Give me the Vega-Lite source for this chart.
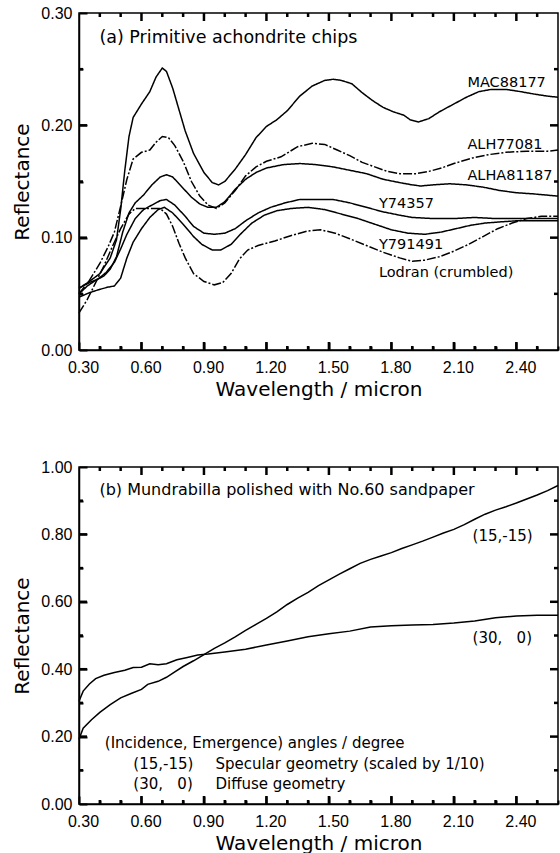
{
  "$schema": "https://vega.github.io/schema/vega-lite/v6.json",
  "background": "white",
  "padding": {"left": 12, "top": 4, "right": 0, "bottom": 0},
  "spacing": 117,
  "bounds": "flush",
  "config": {
    "view": {"stroke": "black", "strokeWidth": 1.5},
    "axis": {
      "grid": false, "ticks": true, "zindex": 2, "domainColor": "black", "domainWidth": 1.5, "tickColor": "black", "tickWidth": 2, "tickOpacity": 1,
      "labelColor": "black", "labelFont": "Liberation Sans", "labelFontSize": 16, "labelFlush": false, "labelOverlap": false,
      "titleColor": "black", "titleFont": "DejaVu Sans", "titleFontSize": 20, "titleFontWeight": "normal"
    },
    "text": {"font": "DejaVu Sans", "color": "black"}
  },
  "datasets": {
    "xt": [{"v":0.4,"m":0},{"v":0.5,"m":0},{"v":0.6,"m":1},{"v":0.7,"m":0},{"v":0.8,"m":0},{"v":0.9,"m":1},{"v":1.0,"m":0},{"v":1.1,"m":0},{"v":1.2,"m":1},{"v":1.3,"m":0},{"v":1.4,"m":0},{"v":1.5,"m":1},{"v":1.6,"m":0},{"v":1.7,"m":0},{"v":1.8,"m":1},{"v":1.9,"m":0},{"v":2.0,"m":0},{"v":2.1,"m":1},{"v":2.2,"m":0},{"v":2.3,"m":0},{"v":2.4,"m":1},{"v":2.5,"m":0}],
    "yta": [{"v":0.05,"m":0},{"v":0.1,"m":1},{"v":0.15,"m":0},{"v":0.2,"m":1},{"v":0.25,"m":0}],
    "ytb": [{"v":0.1,"m":0},{"v":0.2,"m":1},{"v":0.3,"m":0},{"v":0.4,"m":1},{"v":0.5,"m":0},{"v":0.6,"m":1},{"v":0.7,"m":0},{"v":0.8,"m":1},{"v":0.9,"m":0}],
    "a": [
      {"s":"MAC88177","w":0.30,"r":0.055},{"s":"MAC88177","w":0.35,"r":0.061},{"s":"MAC88177","w":0.40,"r":0.068},{"s":"MAC88177","w":0.45,"r":0.082},{"s":"MAC88177","w":0.48,"r":0.098},{"s":"MAC88177","w":0.50,"r":0.125},{"s":"MAC88177","w":0.52,"r":0.160},{"s":"MAC88177","w":0.54,"r":0.190},{"s":"MAC88177","w":0.56,"r":0.207},{"s":"MAC88177","w":0.60,"r":0.219},{"s":"MAC88177","w":0.64,"r":0.230},{"s":"MAC88177","w":0.67,"r":0.243},{"s":"MAC88177","w":0.70,"r":0.251},{"s":"MAC88177","w":0.72,"r":0.248},{"s":"MAC88177","w":0.75,"r":0.233},{"s":"MAC88177","w":0.78,"r":0.214},{"s":"MAC88177","w":0.81,"r":0.195},{"s":"MAC88177","w":0.85,"r":0.175},{"s":"MAC88177","w":0.90,"r":0.158},{"s":"MAC88177","w":0.94,"r":0.149},{"s":"MAC88177","w":0.97,"r":0.147},{"s":"MAC88177","w":1.00,"r":0.150},{"s":"MAC88177","w":1.05,"r":0.161},{"s":"MAC88177","w":1.10,"r":0.174},{"s":"MAC88177","w":1.15,"r":0.189},{"s":"MAC88177","w":1.20,"r":0.199},{"s":"MAC88177","w":1.25,"r":0.205},{"s":"MAC88177","w":1.30,"r":0.213},{"s":"MAC88177","w":1.36,"r":0.226},{"s":"MAC88177","w":1.42,"r":0.235},{"s":"MAC88177","w":1.48,"r":0.240},{"s":"MAC88177","w":1.52,"r":0.241},{"s":"MAC88177","w":1.56,"r":0.240},{"s":"MAC88177","w":1.61,"r":0.237},{"s":"MAC88177","w":1.66,"r":0.229},{"s":"MAC88177","w":1.71,"r":0.222},{"s":"MAC88177","w":1.76,"r":0.216},{"s":"MAC88177","w":1.81,"r":0.212},{"s":"MAC88177","w":1.86,"r":0.209},{"s":"MAC88177","w":1.89,"r":0.205},{"s":"MAC88177","w":1.93,"r":0.203},{"s":"MAC88177","w":1.98,"r":0.206},{"s":"MAC88177","w":2.03,"r":0.212},{"s":"MAC88177","w":2.09,"r":0.218},{"s":"MAC88177","w":2.16,"r":0.225},{"s":"MAC88177","w":2.22,"r":0.230},{"s":"MAC88177","w":2.28,"r":0.232},{"s":"MAC88177","w":2.35,"r":0.232},{"s":"MAC88177","w":2.42,"r":0.230},{"s":"MAC88177","w":2.48,"r":0.228},{"s":"MAC88177","w":2.55,"r":0.226},{"s":"MAC88177","w":2.60,"r":0.225},
      {"s":"ALH77081","w":0.30,"r":0.050},{"s":"ALH77081","w":0.35,"r":0.062},{"s":"ALH77081","w":0.40,"r":0.077},{"s":"ALH77081","w":0.44,"r":0.092},{"s":"ALH77081","w":0.47,"r":0.105},{"s":"ALH77081","w":0.50,"r":0.128},{"s":"ALH77081","w":0.53,"r":0.152},{"s":"ALH77081","w":0.56,"r":0.170},{"s":"ALH77081","w":0.60,"r":0.176},{"s":"ALH77081","w":0.64,"r":0.178},{"s":"ALH77081","w":0.67,"r":0.185},{"s":"ALH77081","w":0.70,"r":0.190},{"s":"ALH77081","w":0.73,"r":0.189},{"s":"ALH77081","w":0.76,"r":0.182},{"s":"ALH77081","w":0.80,"r":0.168},{"s":"ALH77081","w":0.84,"r":0.150},{"s":"ALH77081","w":0.88,"r":0.137},{"s":"ALH77081","w":0.92,"r":0.129},{"s":"ALH77081","w":0.96,"r":0.126},{"s":"ALH77081","w":1.00,"r":0.131},{"s":"ALH77081","w":1.05,"r":0.142},{"s":"ALH77081","w":1.10,"r":0.155},{"s":"ALH77081","w":1.15,"r":0.163},{"s":"ALH77081","w":1.20,"r":0.168},{"s":"ALH77081","w":1.27,"r":0.172},{"s":"ALH77081","w":1.35,"r":0.181},{"s":"ALH77081","w":1.42,"r":0.184},{"s":"ALH77081","w":1.48,"r":0.183},{"s":"ALH77081","w":1.54,"r":0.178},{"s":"ALH77081","w":1.60,"r":0.173},{"s":"ALH77081","w":1.66,"r":0.167},{"s":"ALH77081","w":1.72,"r":0.163},{"s":"ALH77081","w":1.78,"r":0.159},{"s":"ALH77081","w":1.84,"r":0.157},{"s":"ALH77081","w":1.92,"r":0.157},{"s":"ALH77081","w":1.98,"r":0.159},{"s":"ALH77081","w":2.04,"r":0.162},{"s":"ALH77081","w":2.10,"r":0.166},{"s":"ALH77081","w":2.19,"r":0.171},{"s":"ALH77081","w":2.27,"r":0.174},{"s":"ALH77081","w":2.35,"r":0.176},{"s":"ALH77081","w":2.45,"r":0.177},{"s":"ALH77081","w":2.55,"r":0.177},{"s":"ALH77081","w":2.60,"r":0.178},
      {"s":"ALHA81187","w":0.30,"r":0.050},{"s":"ALHA81187","w":0.34,"r":0.057},{"s":"ALHA81187","w":0.38,"r":0.062},{"s":"ALHA81187","w":0.42,"r":0.066},{"s":"ALHA81187","w":0.45,"r":0.072},{"s":"ALHA81187","w":0.48,"r":0.083},{"s":"ALHA81187","w":0.51,"r":0.105},{"s":"ALHA81187","w":0.54,"r":0.122},{"s":"ALHA81187","w":0.57,"r":0.131},{"s":"ALHA81187","w":0.61,"r":0.138},{"s":"ALHA81187","w":0.65,"r":0.147},{"s":"ALHA81187","w":0.69,"r":0.154},{"s":"ALHA81187","w":0.72,"r":0.156},{"s":"ALHA81187","w":0.75,"r":0.154},{"s":"ALHA81187","w":0.79,"r":0.146},{"s":"ALHA81187","w":0.84,"r":0.136},{"s":"ALHA81187","w":0.88,"r":0.130},{"s":"ALHA81187","w":0.92,"r":0.127},{"s":"ALHA81187","w":0.96,"r":0.127},{"s":"ALHA81187","w":1.00,"r":0.132},{"s":"ALHA81187","w":1.05,"r":0.143},{"s":"ALHA81187","w":1.10,"r":0.152},{"s":"ALHA81187","w":1.15,"r":0.158},{"s":"ALHA81187","w":1.20,"r":0.162},{"s":"ALHA81187","w":1.28,"r":0.165},{"s":"ALHA81187","w":1.36,"r":0.166},{"s":"ALHA81187","w":1.44,"r":0.165},{"s":"ALHA81187","w":1.52,"r":0.163},{"s":"ALHA81187","w":1.60,"r":0.160},{"s":"ALHA81187","w":1.68,"r":0.157},{"s":"ALHA81187","w":1.76,"r":0.152},{"s":"ALHA81187","w":1.84,"r":0.149},{"s":"ALHA81187","w":1.90,"r":0.147},{"s":"ALHA81187","w":1.94,"r":0.146},{"s":"ALHA81187","w":2.00,"r":0.147},{"s":"ALHA81187","w":2.08,"r":0.148},{"s":"ALHA81187","w":2.16,"r":0.147},{"s":"ALHA81187","w":2.24,"r":0.145},{"s":"ALHA81187","w":2.32,"r":0.142},{"s":"ALHA81187","w":2.40,"r":0.140},{"s":"ALHA81187","w":2.48,"r":0.139},{"s":"ALHA81187","w":2.60,"r":0.137},
      {"s":"Y74357","w":0.30,"r":0.055},{"s":"Y74357","w":0.35,"r":0.060},{"s":"Y74357","w":0.39,"r":0.063},{"s":"Y74357","w":0.43,"r":0.069},{"s":"Y74357","w":0.47,"r":0.078},{"s":"Y74357","w":0.50,"r":0.090},{"s":"Y74357","w":0.53,"r":0.103},{"s":"Y74357","w":0.57,"r":0.117},{"s":"Y74357","w":0.61,"r":0.125},{"s":"Y74357","w":0.65,"r":0.129},{"s":"Y74357","w":0.69,"r":0.133},{"s":"Y74357","w":0.72,"r":0.134},{"s":"Y74357","w":0.76,"r":0.129},{"s":"Y74357","w":0.81,"r":0.119},{"s":"Y74357","w":0.85,"r":0.110},{"s":"Y74357","w":0.90,"r":0.104},{"s":"Y74357","w":0.95,"r":0.103},{"s":"Y74357","w":1.00,"r":0.104},{"s":"Y74357","w":1.05,"r":0.108},{"s":"Y74357","w":1.10,"r":0.115},{"s":"Y74357","w":1.16,"r":0.122},{"s":"Y74357","w":1.22,"r":0.127},{"s":"Y74357","w":1.29,"r":0.131},{"s":"Y74357","w":1.36,"r":0.134},{"s":"Y74357","w":1.44,"r":0.134},{"s":"Y74357","w":1.52,"r":0.134},{"s":"Y74357","w":1.60,"r":0.131},{"s":"Y74357","w":1.68,"r":0.127},{"s":"Y74357","w":1.76,"r":0.123},{"s":"Y74357","w":1.84,"r":0.120},{"s":"Y74357","w":1.90,"r":0.118},{"s":"Y74357","w":2.00,"r":0.117},{"s":"Y74357","w":2.10,"r":0.117},{"s":"Y74357","w":2.20,"r":0.118},{"s":"Y74357","w":2.30,"r":0.117},{"s":"Y74357","w":2.40,"r":0.117},{"s":"Y74357","w":2.50,"r":0.117},{"s":"Y74357","w":2.60,"r":0.117},
      {"s":"Y791491","w":0.30,"r":0.047},{"s":"Y791491","w":0.35,"r":0.051},{"s":"Y791491","w":0.40,"r":0.054},{"s":"Y791491","w":0.44,"r":0.056},{"s":"Y791491","w":0.47,"r":0.057},{"s":"Y791491","w":0.50,"r":0.064},{"s":"Y791491","w":0.53,"r":0.082},{"s":"Y791491","w":0.56,"r":0.096},{"s":"Y791491","w":0.60,"r":0.108},{"s":"Y791491","w":0.64,"r":0.118},{"s":"Y791491","w":0.68,"r":0.125},{"s":"Y791491","w":0.71,"r":0.127},{"s":"Y791491","w":0.75,"r":0.122},{"s":"Y791491","w":0.80,"r":0.112},{"s":"Y791491","w":0.85,"r":0.101},{"s":"Y791491","w":0.89,"r":0.094},{"s":"Y791491","w":0.94,"r":0.089},{"s":"Y791491","w":0.98,"r":0.089},{"s":"Y791491","w":1.03,"r":0.094},{"s":"Y791491","w":1.08,"r":0.104},{"s":"Y791491","w":1.13,"r":0.113},{"s":"Y791491","w":1.19,"r":0.120},{"s":"Y791491","w":1.25,"r":0.124},{"s":"Y791491","w":1.32,"r":0.126},{"s":"Y791491","w":1.40,"r":0.127},{"s":"Y791491","w":1.48,"r":0.125},{"s":"Y791491","w":1.56,"r":0.121},{"s":"Y791491","w":1.64,"r":0.117},{"s":"Y791491","w":1.72,"r":0.112},{"s":"Y791491","w":1.80,"r":0.107},{"s":"Y791491","w":1.88,"r":0.104},{"s":"Y791491","w":1.96,"r":0.103},{"s":"Y791491","w":2.04,"r":0.105},{"s":"Y791491","w":2.11,"r":0.108},{"s":"Y791491","w":2.18,"r":0.111},{"s":"Y791491","w":2.25,"r":0.113},{"s":"Y791491","w":2.32,"r":0.114},{"s":"Y791491","w":2.40,"r":0.115},{"s":"Y791491","w":2.50,"r":0.115},{"s":"Y791491","w":2.60,"r":0.115},
      {"s":"Lodran","w":0.30,"r":0.033},{"s":"Lodran","w":0.34,"r":0.045},{"s":"Lodran","w":0.38,"r":0.060},{"s":"Lodran","w":0.42,"r":0.075},{"s":"Lodran","w":0.46,"r":0.092},{"s":"Lodran","w":0.50,"r":0.108},{"s":"Lodran","w":0.54,"r":0.121},{"s":"Lodran","w":0.57,"r":0.126},{"s":"Lodran","w":0.62,"r":0.126},{"s":"Lodran","w":0.66,"r":0.126},{"s":"Lodran","w":0.69,"r":0.126},{"s":"Lodran","w":0.72,"r":0.121},{"s":"Lodran","w":0.75,"r":0.110},{"s":"Lodran","w":0.78,"r":0.095},{"s":"Lodran","w":0.81,"r":0.082},{"s":"Lodran","w":0.85,"r":0.068},{"s":"Lodran","w":0.90,"r":0.061},{"s":"Lodran","w":0.95,"r":0.058},{"s":"Lodran","w":0.99,"r":0.060},{"s":"Lodran","w":1.03,"r":0.068},{"s":"Lodran","w":1.07,"r":0.081},{"s":"Lodran","w":1.11,"r":0.089},{"s":"Lodran","w":1.16,"r":0.093},{"s":"Lodran","w":1.24,"r":0.097},{"s":"Lodran","w":1.32,"r":0.102},{"s":"Lodran","w":1.40,"r":0.106},{"s":"Lodran","w":1.46,"r":0.107},{"s":"Lodran","w":1.53,"r":0.104},{"s":"Lodran","w":1.60,"r":0.099},{"s":"Lodran","w":1.68,"r":0.093},{"s":"Lodran","w":1.76,"r":0.087},{"s":"Lodran","w":1.84,"r":0.082},{"s":"Lodran","w":1.90,"r":0.079},{"s":"Lodran","w":1.96,"r":0.080},{"s":"Lodran","w":2.03,"r":0.083},{"s":"Lodran","w":2.10,"r":0.088},{"s":"Lodran","w":2.17,"r":0.094},{"s":"Lodran","w":2.24,"r":0.101},{"s":"Lodran","w":2.31,"r":0.108},{"s":"Lodran","w":2.38,"r":0.113},{"s":"Lodran","w":2.45,"r":0.117},{"s":"Lodran","w":2.52,"r":0.119},{"s":"Lodran","w":2.60,"r":0.119}
    ],
    "ta": [
      {"t":"(a) Primitive achondrite chips","w":0.398,"r":0.278,"k":"title"},
      {"t":"MAC88177","w":2.165,"r":0.238,"k":"curve"},
      {"t":"ALH77081","w":2.165,"r":0.1827,"k":"curve"},
      {"t":"ALHA81187","w":2.165,"r":0.1547,"k":"curve"},
      {"t":"Y74357","w":1.74,"r":0.130,"k":"curve"},
      {"t":"Y791491","w":1.74,"r":0.0936,"k":"curve"},
      {"t":"Lodran (crumbled)","w":1.74,"r":0.0683,"k":"curve"}
    ],
    "b": [
      {"s":"spec","w":0.30,"r":0.192},{"s":"spec","w":0.32,"r":0.225},{"s":"spec","w":0.36,"r":0.250},{"s":"spec","w":0.40,"r":0.272},{"s":"spec","w":0.45,"r":0.295},{"s":"spec","w":0.50,"r":0.315},{"s":"spec","w":0.55,"r":0.328},{"s":"spec","w":0.60,"r":0.340},{"s":"spec","w":0.63,"r":0.355},{"s":"spec","w":0.68,"r":0.364},{"s":"spec","w":0.72,"r":0.376},{"s":"spec","w":0.76,"r":0.392},{"s":"spec","w":0.80,"r":0.408},{"s":"spec","w":0.85,"r":0.425},{"s":"spec","w":0.90,"r":0.443},{"s":"spec","w":0.95,"r":0.462},{"s":"spec","w":1.00,"r":0.478},{"s":"spec","w":1.05,"r":0.496},{"s":"spec","w":1.10,"r":0.515},{"s":"spec","w":1.15,"r":0.533},{"s":"spec","w":1.20,"r":0.551},{"s":"spec","w":1.25,"r":0.570},{"s":"spec","w":1.30,"r":0.592},{"s":"spec","w":1.35,"r":0.611},{"s":"spec","w":1.40,"r":0.628},{"s":"spec","w":1.45,"r":0.648},{"s":"spec","w":1.50,"r":0.665},{"s":"spec","w":1.55,"r":0.682},{"s":"spec","w":1.60,"r":0.698},{"s":"spec","w":1.65,"r":0.714},{"s":"spec","w":1.70,"r":0.726},{"s":"spec","w":1.75,"r":0.736},{"s":"spec","w":1.80,"r":0.746},{"s":"spec","w":1.85,"r":0.758},{"s":"spec","w":1.90,"r":0.769},{"s":"spec","w":1.95,"r":0.780},{"s":"spec","w":2.00,"r":0.792},{"s":"spec","w":2.05,"r":0.804},{"s":"spec","w":2.10,"r":0.815},{"s":"spec","w":2.15,"r":0.829},{"s":"spec","w":2.20,"r":0.845},{"s":"spec","w":2.25,"r":0.860},{"s":"spec","w":2.30,"r":0.872},{"s":"spec","w":2.35,"r":0.882},{"s":"spec","w":2.40,"r":0.893},{"s":"spec","w":2.45,"r":0.905},{"s":"spec","w":2.50,"r":0.917},{"s":"spec","w":2.55,"r":0.930},{"s":"spec","w":2.60,"r":0.945},
      {"s":"diff","w":0.30,"r":0.305},{"s":"diff","w":0.32,"r":0.335},{"s":"diff","w":0.35,"r":0.356},{"s":"diff","w":0.38,"r":0.372},{"s":"diff","w":0.42,"r":0.382},{"s":"diff","w":0.47,"r":0.390},{"s":"diff","w":0.52,"r":0.397},{"s":"diff","w":0.56,"r":0.405},{"s":"diff","w":0.60,"r":0.406},{"s":"diff","w":0.64,"r":0.416},{"s":"diff","w":0.68,"r":0.413},{"s":"diff","w":0.72,"r":0.416},{"s":"diff","w":0.77,"r":0.428},{"s":"diff","w":0.82,"r":0.435},{"s":"diff","w":0.87,"r":0.442},{"s":"diff","w":0.92,"r":0.445},{"s":"diff","w":1.00,"r":0.451},{"s":"diff","w":1.10,"r":0.459},{"s":"diff","w":1.20,"r":0.472},{"s":"diff","w":1.30,"r":0.484},{"s":"diff","w":1.40,"r":0.496},{"s":"diff","w":1.50,"r":0.505},{"s":"diff","w":1.60,"r":0.513},{"s":"diff","w":1.70,"r":0.525},{"s":"diff","w":1.80,"r":0.529},{"s":"diff","w":1.90,"r":0.531},{"s":"diff","w":2.00,"r":0.533},{"s":"diff","w":2.10,"r":0.537},{"s":"diff","w":2.20,"r":0.543},{"s":"diff","w":2.30,"r":0.553},{"s":"diff","w":2.40,"r":0.558},{"s":"diff","w":2.50,"r":0.560},{"s":"diff","w":2.60,"r":0.560}
    ],
    "tb": [
      {"t":"(b) Mundrabilla polished with No.60 sandpaper","w":0.398,"r":0.932,"k":"title"},
      {"t":"(15,-15)","w":2.19,"r":0.794,"k":"curve"},
      {"t":"(30,\u00a0\u00a0\u00a00)","w":2.19,"r":0.494,"k":"curve"},
      {"t":"(Incidence, Emergence) angles / degree","w":0.424,"r":0.182,"k":"legend"},
      {"t":"(15,-15)","w":0.561,"r":0.119,"k":"legend"},
      {"t":"Specular geometry (scaled by 1/10)","w":0.955,"r":0.119,"k":"legend"},
      {"t":"(30,\u00a0\u00a0\u00a00)","w":0.561,"r":0.059,"k":"legend"},
      {"t":"Diffuse geometry","w":0.955,"r":0.059,"k":"legend"}
    ]
  },
  "vconcat": [
    {
      "width": 479, "height": 337,
      "resolve": {"axis": {"x": "independent", "y": "independent"}},
      "layer": [
        {
          "data": {"name": "a"},
          "mark": {"type": "line", "color": "black", "strokeWidth": 1.5},
          "encoding": {
            "x": {"field": "w", "type": "quantitative", "scale": {"domain": [0.3, 2.6], "nice": false, "zero": false},
              "axis": {"orient": "bottom", "title": "Wavelength / micron", "values": [0.3,0.4,0.5,0.6,0.7,0.8,0.9,1.0,1.1,1.2,1.3,1.4,1.5,1.6,1.7,1.8,1.9,2.0,2.1,2.2,2.3,2.4,2.5,2.6],
                "labelExpr": "round(datum.value*10) % 3 == 0 ? format(datum.value, '.2f') : ''",
                "tickSize": {"condition": {"test": "round(datum.value*10) % 3 == 0", "value": -8}, "value": -4},
                "labelPadding": 17, "labelOffset": 4, "titlePadding": 0}},
            "y": {"field": "r", "type": "quantitative", "scale": {"domain": [0, 0.3], "nice": false, "zero": false},
              "axis": {"orient": "left", "title": "Reflectance", "values": [0,0.05,0.1,0.15,0.2,0.25,0.3],
                "labelExpr": "round(datum.value*100) % 10 == 0 ? format(datum.value, '.2f') : ''",
                "tickSize": {"condition": {"test": "round(datum.value*100) % 10 == 0", "value": -8}, "value": -4},
                "labelPadding": 15, "titlePadding": 8}},
            "strokeDash": {"field": "s", "type": "nominal",
              "scale": {"domain": ["MAC88177","ALH77081","ALHA81187","Y74357","Y791491","Lodran"], "range": [[1,0],[9,2,2,2],[1,0],[1,0],[1,0],[9,2,2,2]]},
              "legend": null}
          }
        },
        {
          "data": {"name": "ta"},
          "transform": [{"filter": "datum.k == 'curve'"}],
          "mark": {"type": "text", "align": "left", "baseline": "middle", "fontSize": 14.5},
          "encoding": {
            "x": {"field": "w", "type": "quantitative", "scale": {"domain": [0.3, 2.6], "nice": false, "zero": false}, "axis": null},
            "y": {"field": "r", "type": "quantitative", "scale": {"domain": [0, 0.3], "nice": false, "zero": false}, "axis": null},
            "text": {"field": "t"}
          }
        },
        {
          "data": {"name": "ta"},
          "transform": [{"filter": "datum.k == 'title'"}],
          "mark": {"type": "text", "align": "left", "baseline": "middle", "fontSize": 17.5},
          "encoding": {
            "x": {"field": "w", "type": "quantitative", "axis": null},
            "y": {"field": "r", "type": "quantitative", "axis": null},
            "text": {"field": "t"}
          }
        },
        {
          "data": {"name": "xt"},
          "mark": {"type": "tick", "orient": "vertical", "thickness": 2.5, "color": "black", "opacity": 1, "clip": true},
          "encoding": {
            "x": {"field": "v", "type": "quantitative", "scale": {"domain": [0.3, 2.6], "nice": false, "zero": false}, "axis": null},
            "y": {"datum": 0, "type": "quantitative", "axis": null},
            "size": {"field": "m", "type": "quantitative", "scale": {"domain": [0, 1], "range": [8, 16], "zero": false}, "legend": null}
          }
        },
        {
          "data": {"name": "xt"},
          "mark": {"type": "tick", "orient": "vertical", "thickness": 2.5, "color": "black", "opacity": 1, "clip": true},
          "encoding": {
            "x": {"field": "v", "type": "quantitative", "scale": {"domain": [0.3, 2.6], "nice": false, "zero": false}, "axis": null},
            "y": {"datum": 0.3, "type": "quantitative", "axis": null},
            "size": {"field": "m", "type": "quantitative", "scale": {"domain": [0, 1], "range": [8, 16], "zero": false}, "legend": null}
          }
        },
        {
          "data": {"name": "yta"},
          "mark": {"type": "tick", "orient": "horizontal", "thickness": 2.5, "color": "black", "opacity": 1, "clip": true},
          "encoding": {
            "y": {"field": "v", "type": "quantitative", "scale": {"domain": [0, 0.3], "nice": false, "zero": false}, "axis": null},
            "x": {"datum": 0.3, "type": "quantitative", "axis": null},
            "size": {"field": "m", "type": "quantitative", "scale": {"domain": [0, 1], "range": [8, 16], "zero": false}, "legend": null}
          }
        },
        {
          "data": {"name": "yta"},
          "mark": {"type": "tick", "orient": "horizontal", "thickness": 2.5, "color": "black", "opacity": 1, "clip": true},
          "encoding": {
            "y": {"field": "v", "type": "quantitative", "scale": {"domain": [0, 0.3], "nice": false, "zero": false}, "axis": null},
            "x": {"datum": 2.6, "type": "quantitative", "axis": null},
            "size": {"field": "m", "type": "quantitative", "scale": {"domain": [0, 1], "range": [8, 16], "zero": false}, "legend": null}
          }
        }
      ]
    },
    {
      "width": 479, "height": 337,
      "resolve": {"axis": {"x": "independent", "y": "independent"}},
      "layer": [
        {
          "data": {"name": "b"},
          "mark": {"type": "line", "color": "black", "strokeWidth": 1.5},
          "encoding": {
            "x": {"field": "w", "type": "quantitative", "scale": {"domain": [0.3, 2.6], "nice": false, "zero": false},
              "axis": {"orient": "bottom", "title": "Wavelength / micron", "values": [0.3,0.4,0.5,0.6,0.7,0.8,0.9,1.0,1.1,1.2,1.3,1.4,1.5,1.6,1.7,1.8,1.9,2.0,2.1,2.2,2.3,2.4,2.5,2.6],
                "labelExpr": "round(datum.value*10) % 3 == 0 ? format(datum.value, '.2f') : ''",
                "tickSize": {"condition": {"test": "round(datum.value*10) % 3 == 0", "value": -8}, "value": -4},
                "labelPadding": 17, "labelOffset": 4, "titlePadding": 0}},
            "y": {"field": "r", "type": "quantitative", "scale": {"domain": [0, 1], "nice": false, "zero": false},
              "axis": {"orient": "left", "title": "Reflectance", "values": [0,0.1,0.2,0.3,0.4,0.5,0.6,0.7,0.8,0.9,1.0],
                "labelExpr": "round(datum.value*10) % 2 == 0 ? format(datum.value, '.2f') : ''",
                "tickSize": {"condition": {"test": "round(datum.value*10) % 2 == 0", "value": -8}, "value": -4},
                "labelPadding": 15, "titlePadding": 8}},
            "detail": {"field": "s"}
          }
        },
        {
          "data": {"name": "tb"},
          "transform": [{"filter": "datum.k != 'title'"}],
          "mark": {"type": "text", "align": "left", "baseline": "middle", "fontSize": 15},
          "encoding": {
            "x": {"field": "w", "type": "quantitative", "scale": {"domain": [0.3, 2.6], "nice": false, "zero": false}, "axis": null},
            "y": {"field": "r", "type": "quantitative", "scale": {"domain": [0, 1], "nice": false, "zero": false}, "axis": null},
            "text": {"field": "t"}
          }
        },
        {
          "data": {"name": "tb"},
          "transform": [{"filter": "datum.k == 'title'"}],
          "mark": {"type": "text", "align": "left", "baseline": "middle", "fontSize": 16},
          "encoding": {
            "x": {"field": "w", "type": "quantitative", "axis": null},
            "y": {"field": "r", "type": "quantitative", "axis": null},
            "text": {"field": "t"}
          }
        },
        {
          "data": {"name": "xt"},
          "mark": {"type": "tick", "orient": "vertical", "thickness": 2.5, "color": "black", "opacity": 1, "clip": true},
          "encoding": {
            "x": {"field": "v", "type": "quantitative", "scale": {"domain": [0.3, 2.6], "nice": false, "zero": false}, "axis": null},
            "y": {"datum": 0, "type": "quantitative", "axis": null},
            "size": {"field": "m", "type": "quantitative", "scale": {"domain": [0, 1], "range": [8, 16], "zero": false}, "legend": null}
          }
        },
        {
          "data": {"name": "xt"},
          "mark": {"type": "tick", "orient": "vertical", "thickness": 2.5, "color": "black", "opacity": 1, "clip": true},
          "encoding": {
            "x": {"field": "v", "type": "quantitative", "scale": {"domain": [0.3, 2.6], "nice": false, "zero": false}, "axis": null},
            "y": {"datum": 1, "type": "quantitative", "axis": null},
            "size": {"field": "m", "type": "quantitative", "scale": {"domain": [0, 1], "range": [8, 16], "zero": false}, "legend": null}
          }
        },
        {
          "data": {"name": "ytb"},
          "mark": {"type": "tick", "orient": "horizontal", "thickness": 2.5, "color": "black", "opacity": 1, "clip": true},
          "encoding": {
            "y": {"field": "v", "type": "quantitative", "scale": {"domain": [0, 1], "nice": false, "zero": false}, "axis": null},
            "x": {"datum": 0.3, "type": "quantitative", "axis": null},
            "size": {"field": "m", "type": "quantitative", "scale": {"domain": [0, 1], "range": [8, 16], "zero": false}, "legend": null}
          }
        },
        {
          "data": {"name": "ytb"},
          "mark": {"type": "tick", "orient": "horizontal", "thickness": 2.5, "color": "black", "opacity": 1, "clip": true},
          "encoding": {
            "y": {"field": "v", "type": "quantitative", "scale": {"domain": [0, 1], "nice": false, "zero": false}, "axis": null},
            "x": {"datum": 2.6, "type": "quantitative", "axis": null},
            "size": {"field": "m", "type": "quantitative", "scale": {"domain": [0, 1], "range": [8, 16], "zero": false}, "legend": null}
          }
        }
      ]
    }
  ]
}
